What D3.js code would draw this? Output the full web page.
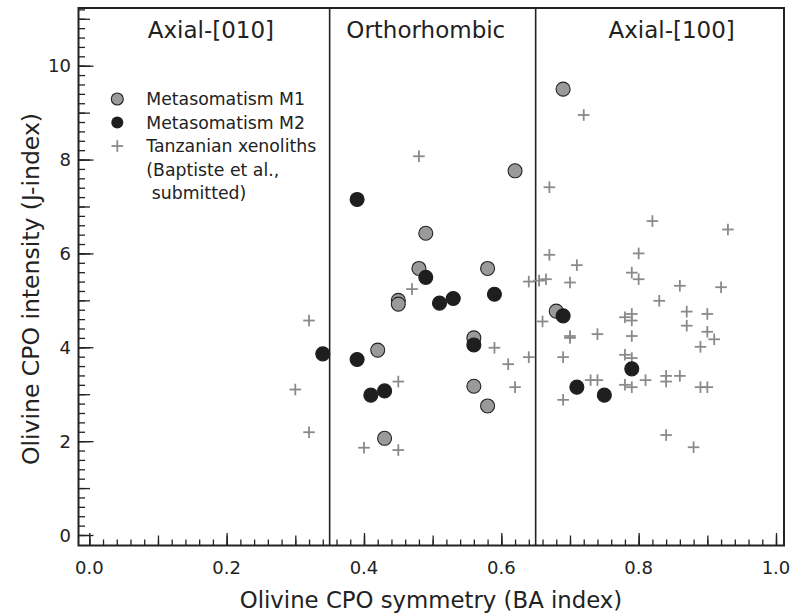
<!DOCTYPE html>
<html>
<head>
<meta charset="utf-8">
<script src="https://cdn.jsdelivr.net/npm/d3@7"></script>
<style>
  body { margin: 0; background: #fff; }
  text { font-family: "DejaVu Sans", sans-serif; fill: #222; }
</style>
</head>
<body>
<div id="chart"></div>
<script>
// <<< Data >>>
// [BA index, J-index]
const metasomatismM1 = [
  [0.69, 9.50], [0.62, 7.76], [0.49, 6.43], [0.48, 5.68], [0.58, 5.68],
  [0.45, 5.00], [0.45, 4.92], [0.42, 3.94], [0.56, 4.20], [0.56, 3.17],
  [0.58, 2.75], [0.43, 2.06], [0.68, 4.77]
];

const metasomatismM2 = [
  [0.39, 7.15], [0.49, 5.49], [0.51, 4.94], [0.53, 5.04], [0.59, 5.13],
  [0.34, 3.86], [0.39, 3.74], [0.56, 4.05], [0.41, 2.98], [0.43, 3.07],
  [0.69, 4.67], [0.79, 3.54], [0.71, 3.15], [0.75, 2.98]
];

const tanzanian = [
  [0.32, 4.57], [0.30, 3.10], [0.32, 2.19], [0.40, 1.86], [0.45, 1.81],
  [0.45, 3.27], [0.47, 5.24], [0.48, 8.07], [0.62, 7.80], [0.64, 5.40],
  [0.59, 3.99], [0.61, 3.64], [0.64, 3.79], [0.62, 3.15],
  [0.67, 7.41], [0.72, 8.95], [0.82, 6.69], [0.93, 6.51], [0.67, 5.97],
  [0.80, 6.00], [0.71, 5.75], [0.79, 5.59], [0.80, 5.45], [0.655, 5.42],
  [0.665, 5.45], [0.70, 5.38], [0.86, 5.31], [0.92, 5.28], [0.83, 4.99],
  [0.66, 4.55], [0.78, 4.64], [0.79, 4.71], [0.79, 4.57], [0.87, 4.76],
  [0.90, 4.71], [0.87, 4.46], [0.90, 4.33], [0.91, 4.17], [0.70, 4.24],
  [0.70, 4.20], [0.74, 4.28], [0.79, 4.24], [0.89, 4.01], [0.69, 3.79],
  [0.78, 3.84], [0.79, 3.77], [0.73, 3.30], [0.74, 3.30], [0.78, 3.20],
  [0.79, 3.15], [0.81, 3.30], [0.84, 3.39], [0.84, 3.27], [0.86, 3.39],
  [0.89, 3.15], [0.90, 3.15], [0.69, 2.88], [0.84, 2.13], [0.88, 1.87]
];

const regionBounds = [0.35, 0.65];
const regionNames = ["Axial-[010]", "Orthorhombic", "Axial-[100]"];

const xTickLabels = [0, 0.2, 0.4, 0.6, 0.8, 1.0];
const yTickLabels = [0, 2, 4, 6, 8, 10];

const legendLabels = ["Metasomatism M1", "Metasomatism M2", "Tanzanian xenoliths"];
const legendNote = ["(Baptiste et al.,", " submitted)"];

// <<< Layout >>>
const W = 791, H = 614;
const frame = {left: 78.5, right: 784, top: 8, bottom: 545.5};
const regionLabelX = [0.177, 0.49, 0.848]; // label anchors in BA units

const svg = d3.select("#chart").append("svg")
  .attr("width", W)
  .attr("height", H);

const x = d3.scaleLinear().domain([0, 1]).range([89.3, 776]);
const y = d3.scaleLinear().domain([0, 10]).range([535, 65.7]);

//Frame
svg.append("rect")
  .attr("x", frame.left).attr("y", frame.top)
  .attr("width", frame.right - frame.left)
  .attr("height", frame.bottom - frame.top)
  .attr("fill", "none")
  .attr("stroke", "#222")
  .attr("stroke-width", 2);

//Ticks: three passes per axis (minor / medium / major)
function xTicks(step, size) {
  const vals = d3.range(0, 1.0001, step);
  svg.append("g")
    .attr("transform", "translate(0," + frame.bottom + ")")
    .call(d3.axisBottom(x).tickValues(vals).tickSize(-size).tickFormat(""))
    .call(g => g.select(".domain").remove())
    .call(g => g.selectAll("line").attr("stroke", "#222").attr("stroke-width", 1.3));
}
xTicks(0.02, 6);
xTicks(0.1, 10);
xTicks(0.2, 12.5);

function yTicks(step, size) {
  const vals = d3.range(0, 11.2001, step);
  svg.append("g")
    .attr("transform", "translate(" + frame.left + ",0)")
    .call(d3.axisLeft(y).tickValues(vals).tickSize(-size).tickFormat(""))
    .call(g => g.select(".domain").remove())
    .call(g => g.selectAll("line").attr("stroke", "#222").attr("stroke-width", 1.3));
}
yTicks(0.2, 6.5);
yTicks(1, 11.5);
yTicks(2, 15);

//Tick labels
svg.append("g").selectAll("text")
  .data(xTickLabels)
  .enter().append("text")
  .attr("x", d => x(d))
  .attr("y", 574)
  .attr("text-anchor", "middle")
  .style("font-size", "18px")
  .text(d3.format(".1f"));

svg.append("g").selectAll("text")
  .data(yTickLabels)
  .enter().append("text")
  .attr("x", 71)
  .attr("y", d => y(d) + 6.6)
  .attr("text-anchor", "end")
  .style("font-size", "18px")
  .text(d => d);

//Axis titles
svg.append("text")
  .attr("x", 431)
  .attr("y", 608)
  .attr("text-anchor", "middle")
  .style("font-size", "22.8px")
  .text("Olivine CPO symmetry (BA index)");

svg.append("text")
  .attr("transform", "translate(39,289) rotate(-90)")
  .attr("text-anchor", "middle")
  .style("font-size", "23.5px")
  .text("Olivine CPO intensity (J-index)");

//Region boundaries
svg.append("g").selectAll("line")
  .data(regionBounds)
  .enter().append("line")
  .attr("x1", d => x(d)).attr("x2", d => x(d))
  .attr("y1", frame.top).attr("y2", frame.bottom)
  .attr("stroke", "#222")
  .attr("stroke-width", 1.6);

svg.append("g").selectAll("text")
  .data(regionNames)
  .enter().append("text")
  .attr("x", (d, i) => x(regionLabelX[i]))
  .attr("y", 38)
  .attr("text-anchor", "middle")
  .style("font-size", "23px")
  .text(d => d);

//Points
const plusArm = 5.8;
function plus(sel) {
  sel.append("line")
    .attr("x1", -plusArm).attr("x2", plusArm).attr("y1", 0).attr("y2", 0);
  sel.append("line")
    .attr("x1", 0).attr("x2", 0).attr("y1", -plusArm).attr("y2", plusArm);
}

svg.append("g")
  .attr("stroke", "#8a8a8a")
  .attr("stroke-width", 1.8)
  .selectAll("g")
  .data(tanzanian)
  .enter().append("g")
  .attr("transform", d => "translate(" + x(d[0]) + "," + y(d[1]) + ")")
  .call(plus);

svg.append("g").selectAll("circle")
  .data(metasomatismM1)
  .enter().append("circle")
  .attr("cx", d => x(d[0]))
  .attr("cy", d => y(d[1]))
  .attr("r", 7)
  .attr("fill", "#9a9a9a")
  .attr("stroke", "#222")
  .attr("stroke-width", 1.1);

svg.append("g").selectAll("circle")
  .data(metasomatismM2)
  .enter().append("circle")
  .attr("cx", d => x(d[0]))
  .attr("cy", d => y(d[1]))
  .attr("r", 7)
  .attr("fill", "#1e1e1e")
  .attr("stroke", "#1e1e1e")
  .attr("stroke-width", 1.1);

//Legend
const legend = svg.append("g").attr("transform", "translate(117.3,99)");
const rowH = 23.5;
legend.append("circle").attr("cx", 0).attr("cy", 0).attr("r", 6)
  .attr("fill", "#9a9a9a").attr("stroke", "#222").attr("stroke-width", 1.1);
legend.append("circle").attr("cx", 0).attr("cy", rowH).attr("r", 6)
  .attr("fill", "#1e1e1e");
legend.append("g")
  .attr("transform", "translate(0," + (2 * rowH) + ")")
  .attr("stroke", "#8a8a8a").attr("stroke-width", 1.8)
  .call(plus);

legend.selectAll("text.lab")
  .data(legendLabels.concat(legendNote))
  .enter().append("text")
  .attr("class", "lab")
  .attr("x", 29)
  .attr("y", (d, i) => i * rowH + 6)
  .attr("xml:space", "preserve")
  .style("white-space", "pre")
  .style("font-size", "17.3px")
  .text(d => d);
</script>
</body>
</html>
